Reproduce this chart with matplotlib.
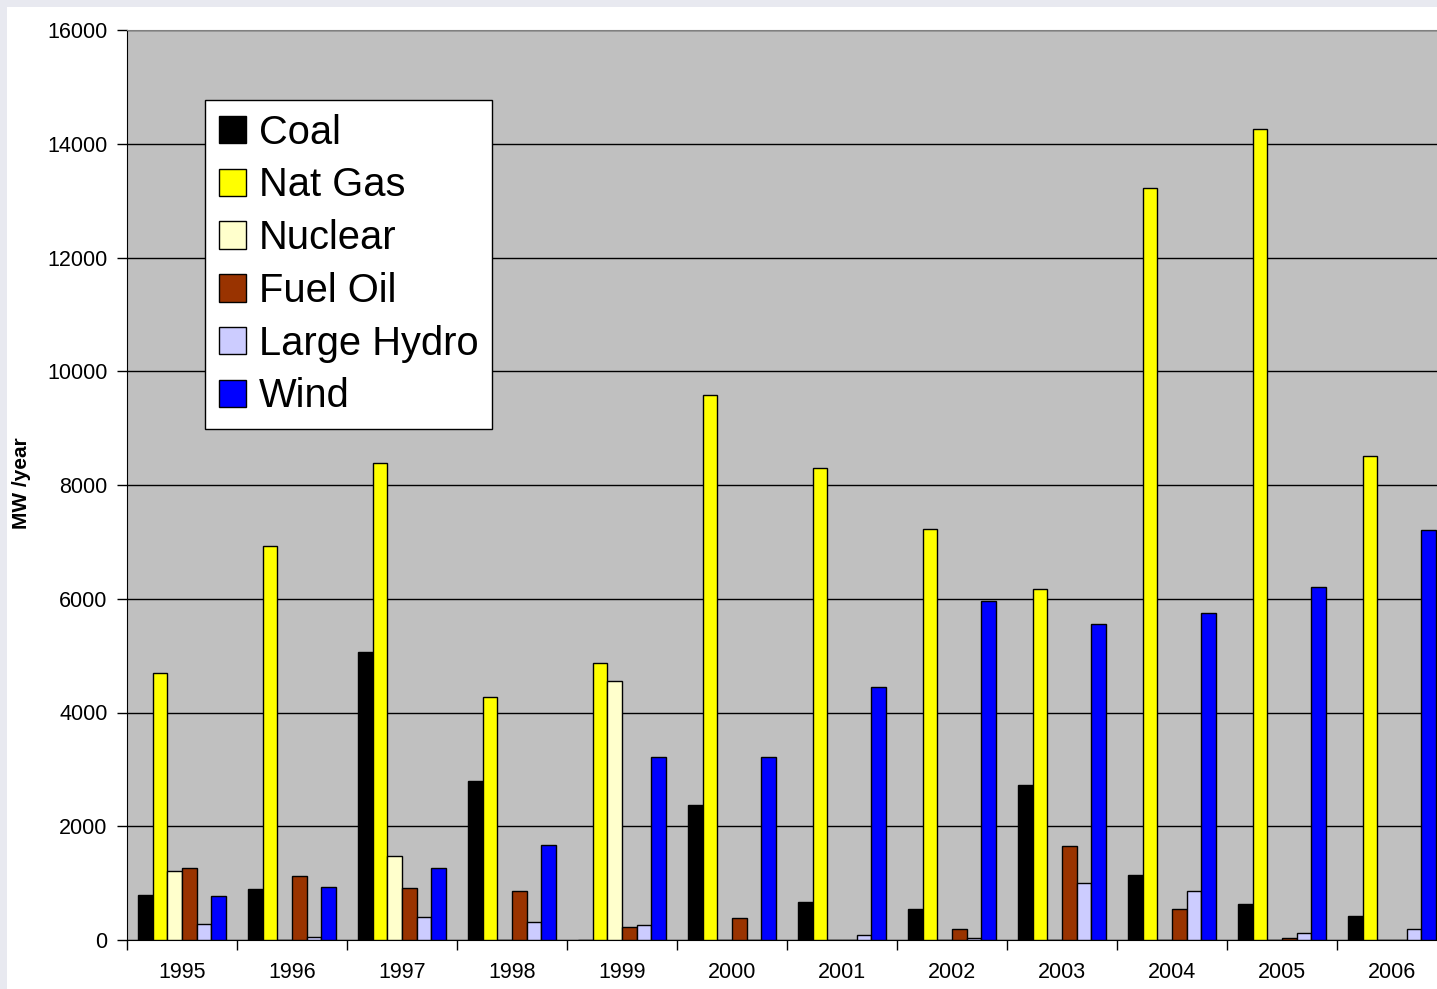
import matplotlib.pyplot as plt
import numpy as np
from matplotlib.patches import Rectangle

plt.rcParams['font.family'] = ['Liberation Sans', 'DejaVu Sans']

years = ['1995', '1996', '1997', '1998', '1999', '2000',
         '2001', '2002', '2003', '2004', '2005', '2006']

coal = [800, 900, 5060, 2790, 0, 2370, 660, 540, 2720, 1150, 640, 430]
nat_gas = [4700, 6930, 8380, 4270, 4870, 9580, 8300, 7230, 6170, 13220, 14260, 8510]
nuclear = [1220, 0, 1480, 0, 4550, 0, 0, 0, 0, 0, 0, 0]
fuel_oil = [1270, 1120, 910, 860, 220, 390, 0, 200, 1650, 540, 30, 0]
large_hydro = [290, 60, 410, 320, 270, 0, 80, 30, 1000, 870, 130, 200]
wind = [770, 940, 1270, 1670, 3210, 3210, 4440, 5960, 5550, 5750, 6210, 7210]

series = [
    ('Coal', coal, '#000000'),
    ('Nat Gas', nat_gas, '#ffff00'),
    ('Nuclear', nuclear, '#ffffcc'),
    ('Fuel Oil', fuel_oil, '#993300'),
    ('Large Hydro', large_hydro, '#ccccff'),
    ('Wind', wind, '#0000ff'),
]

W, H = 1437, 989
fig = plt.figure(figsize=(W / 100, H / 100), dpi=100)
fig.patch.set_facecolor('#e8e9f0')
fig.patches.append(Rectangle((7 / W, 0), 1, (H - 7) / H, transform=fig.transFigure,
                             facecolor='white', edgecolor='none', zorder=-10))

# plot area runs past the right edge of the picture (cropped original)
ax = fig.add_axes([127 / W, (H - 940) / H, 1320 / W, 910 / H])
ax.set_zorder(1)
ax.set_facecolor('#c0c0c0')

x = np.arange(len(years))
bw = 1 / 7.5
for i, (name, vals, col) in enumerate(series):
    ax.bar(x + (i - 2.5) * bw, vals, bw, color=col, edgecolor='black',
           linewidth=1, label=name, zorder=3)

ax.set_xlim(-0.5, len(years) - 0.5)
ax.set_ylim(0, 16000)
ax.set_yticks(np.arange(0, 16001, 2000))
ax.yaxis.grid(True, color='black', linewidth=1, zorder=1)
ax.set_axisbelow(True)

ax.set_xticks(x)
ax.set_xticklabels(years, fontsize=15.5)
ax.set_xticks(np.arange(-0.5, len(years)), minor=True)
ax.tick_params(axis='x', which='major', length=0, pad=16)
ax.tick_params(axis='x', which='minor', length=7, width=1, direction='out')
ax.tick_params(axis='y', length=7, width=1, labelsize=15.5, pad=7)

ax.spines['left'].set_color('black')
ax.spines['bottom'].set_color('black')
ax.spines['top'].set_color('#808080')
ax.spines['right'].set_visible(False)

fig.text(22 / W, 1 - 483 / H, 'MW /year', rotation=90, fontsize=15,
         fontweight='bold', ha='center', va='center')

leg = ax.legend(loc='upper left', bbox_to_anchor=((205 - 127) / 1320, (940 - 100) / 910),
                borderaxespad=0, fontsize=28.7, frameon=True, fancybox=False,
                handlelength=0.68, handleheight=0.68, handletextpad=0.33,
                labelspacing=0.37, borderpad=0.34)
leg.get_frame().set_edgecolor('black')
leg.get_frame().set_linewidth(1)
leg.get_frame().set_facecolor('white')
leg.get_frame().set_alpha(1)

fig.savefig('out.png', dpi=100)
